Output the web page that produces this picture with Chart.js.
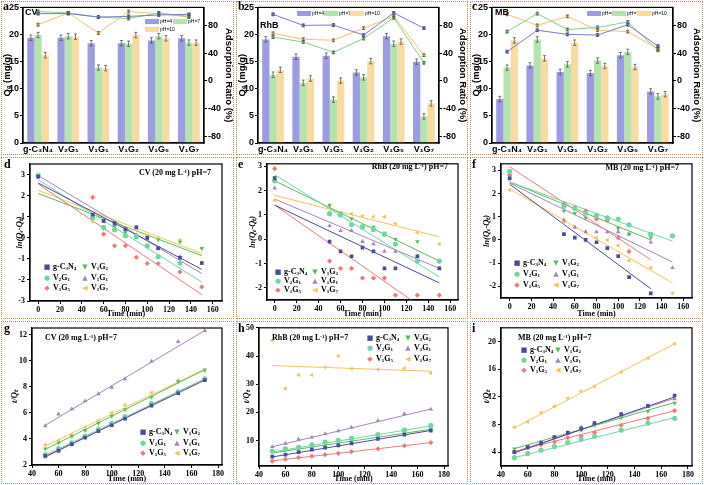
<!DOCTYPE html>
<html>
<head>
<meta charset="utf-8">
<title>Adsorption of CV, RhB and MB</title>
<script src="https://cdn.jsdelivr.net/npm/chart.js@4.4.1/dist/chart.umd.min.js"></script>
<style>
  body { margin: 0; background: #fff; }
  #wrap { position: relative; width: 704px; height: 485px; overflow: hidden; font-family: "Liberation Serif", serif; }
  .panel { position: absolute; box-sizing: border-box; border: 1.5px dotted #c38a55; }
  canvas { position: absolute; }
  .t { position: absolute; white-space: nowrap; line-height: 1; font-weight: bold; color: #000; }
  .letter { font-size: 12px; }
  .sans { font-family: "Liberation Sans", Arial, sans-serif; }
  .sw { position: absolute; }
  .mk { position: absolute; font-family: "DejaVu Sans", sans-serif; font-size: 7px; line-height: 1; transform: translate(-50%, -50%); }
  .lg { position: absolute; white-space: nowrap; font-weight: bold; font-size: 8px; line-height: 1; transform: translateY(-50%); }
  sub { font-size: 0.62em; vertical-align: -0.25em; line-height: 0; }
  sup { font-size: 0.62em; vertical-align: 0.5em; line-height: 0; }
</style>
</head>
<body>
<div id="wrap">
  <div class="panel" style="left:1px;top:1px;width:233px;height:154px"></div>
  <div class="panel" style="left:236px;top:1px;width:232px;height:154px"></div>
  <div class="panel" style="left:470px;top:1px;width:233px;height:154px"></div>
  <div class="panel" style="left:1px;top:157px;width:233px;height:162px"></div>
  <div class="panel" style="left:236px;top:157px;width:232px;height:162px"></div>
  <div class="panel" style="left:470px;top:157px;width:233px;height:162px"></div>
  <div class="panel" style="left:1px;top:321px;width:233px;height:163px"></div>
  <div class="panel" style="left:236px;top:321px;width:232px;height:163px"></div>
  <div class="panel" style="left:470px;top:321px;width:233px;height:163px"></div>

  <canvas id="ca" width="233" height="154" style="left:1px;top:1px"></canvas>
  <canvas id="cb" width="232" height="154" style="left:236px;top:1px"></canvas>
  <canvas id="cc" width="232" height="154" style="left:470px;top:1px"></canvas>
  <canvas id="cd" width="233" height="162" style="left:1px;top:157px"></canvas>
  <canvas id="ce" width="232" height="162" style="left:236px;top:157px"></canvas>
  <canvas id="cf" width="232" height="162" style="left:470px;top:157px"></canvas>
  <canvas id="cg" width="233" height="163" style="left:1px;top:321px"></canvas>
  <canvas id="ch" width="232" height="163" style="left:236px;top:321px"></canvas>
  <canvas id="ci" width="232" height="163" style="left:470px;top:321px"></canvas>

  <div class="t letter" style="left:3px;top:0px">a</div>
  <div class="t letter" style="left:238px;top:0px">b</div>
  <div class="t letter" style="left:472px;top:0px">c</div>
  <div class="t letter" style="left:4px;top:158px">d</div>
  <div class="t letter" style="left:238px;top:158px">e</div>
  <div class="t letter" style="left:472px;top:158px">f</div>
  <div class="t letter" style="left:4px;top:322px">g</div>
  <div class="t letter" style="left:238px;top:322px">h</div>
  <div class="t letter" style="left:472px;top:322px">i</div>

  <div class="t sans" style="left:25px;top:8px;font-size:9px">CV</div>
  <div class="t sans" style="left:260px;top:21px;font-size:9px">RhB</div>
  <div class="t sans" style="left:495px;top:8px;font-size:9px">MB</div>

  <div class="t" style="right:493px;top:169px;font-size:8px">CV (20 mg L<sup>-1</sup>) pH=7</div>
  <div class="t" style="right:256px;top:163px;font-size:8px">RhB (20 mg L<sup>-1</sup>) pH=7</div>
  <div class="t" style="right:25px;top:164px;font-size:8px">MB (20 mg L<sup>-1</sup>) pH=7</div>
  <div class="t" style="left:45px;top:334px;font-size:8px">CV (20 mg L<sup>-1</sup>) pH=7</div>
  <div class="t" style="left:272px;top:334px;font-size:8px">RhB (20 mg L<sup>-1</sup>) pH=7</div>
  <div class="t" style="left:518px;top:334px;font-size:8px">MB (20 mg L<sup>-1</sup>) pH=7</div>
</div>

<script>
// ---- top row: adsorption capacity (bars) and adsorption ratio (lines) ----
const categories = ['g-C₃N₄', 'V₂G₁', 'V₁G₁', 'V₁G₂', 'V₁G₅', 'V₁G₇'];
const phNames = ['pH=4', 'pH=7', 'pH=10'];
const qTicks = [0, 5, 10, 15, 20, 25];
const ratioTicks = [-80, -40, 0, 40, 80];

const cvQ4 = [19.4, 19.4, 18.4, 18.4, 18.9, 19.3];
const cvQ7 = [19.9, 19.7, 13.9, 18.3, 19.7, 18.5];
const cvQ10 = [16.2, 19.6, 13.8, 19.9, 19.3, 18.5];
const cvR4 = [97, 97, 92, 93, 95, 96];
const cvR7 = [100, 98, 92, 90, 98, 93];
const cvR10 = [81, 98, 69, 100, 97, 92];

const rhbQ4 = [19.1, 15.9, 16.1, 13.0, 19.7, 15.0];
const rhbQ7 = [12.6, 11.1, 8.0, 12.1, 18.3, 4.9];
const rhbQ10 = [13.5, 11.9, 11.5, 15.1, 18.7, 7.3];
const rhbR4 = [96, 80, 80.5, 66, 98, 76];
const rhbR7 = [63, 56, 41, 61, 91, 26];
const rhbR10 = [68.5, 60, 58.5, 76, 93, 37];

const mbQ4 = [8.1, 14.3, 13.1, 12.9, 16.2, 9.5];
const mbQ7 = [13.9, 19.1, 14.5, 15.2, 16.8, 8.6];
const mbQ10 = [18.9, 15.6, 18.5, 14.2, 14.0, 9.0];
const mbR4 = [42, 73, 67, 66, 81, 50];
const mbR7 = [71, 97, 74, 77, 85, 44];
const mbR10 = [96, 80, 93, 73, 71, 46];

const qErr = 0.5;
const rErr = 2;

// ---- kinetics: rows follow seriesNames ----
const seriesNames = ['g-C<sub>3</sub>N<sub>4</sub>', 'V<sub>2</sub>G<sub>1</sub>', 'V<sub>1</sub>G<sub>5</sub>',
                     'V<sub>1</sub>G<sub>2</sub>', 'V<sub>1</sub>G<sub>1</sub>', 'V<sub>1</sub>G<sub>7</sub>'];
const firstTimes = [0, 50, 60, 70, 80, 90, 100, 110, 130, 150];
const secondTimes = [50, 60, 70, 80, 90, 100, 110, 130, 150, 170];
const firstXTicks = [0, 20, 40, 60, 80, 100, 120, 140, 160];
const secondXTicks = [40, 60, 80, 100, 120, 140, 160, 180];
const cvFirstYTicks = [-3, -2, -1, 0, 1, 2, 3];
const firstYTicks = [-2, -1, 0, 1, 2, 3];
const cvSecondYTicks = [2, 4, 6, 8, 10, 12];
const rhbSecondYTicks = [10, 20, 30, 40, 50];
const mbSecondYTicks = [4, 8, 12, 16, 20];

// ln(Qe-Qt)
const cvFirst = [
  [2.9, 1.1, 0.8, 0.7, 0.4, 0.5, 0.0, -0.5, -0.95, -1.2],
  [2.95, 0.95, 0.5, 0.38, 0.1, 0.05, -0.38, -0.9, -1.2, null],
  [2.9, 1.92, 0.17, -0.38, -0.38, -0.93, -1.22, -1.22, -1.62, -2.33],
  [2.95, 1.05, 0.45, 0.53, 0.25, 0.1, -0.05, -0.1, -0.2, -0.5],
  [2.9, 1.0, 0.77, 0.6, 0.45, 0.13, -0.07, -0.5, -0.9, null],
  [3.0, 0.77, 0.77, 0.56, 0.4, 0.37, 0.09, -0.03, -0.1, -0.5]
];
const cvFirstFit = [[0, 2.6, 150, -1.5], [0, 2.75, 150, -2.1], [0, 2.55, 150, -2.7],
                    [0, 2.1, 150, -0.85], [0, 2.95, 150, -1.7], [0, 2.25, 150, -0.75]];

const rhbFirst = [
  [2.5, -0.1, -0.5, -0.7, -0.35, -0.5, -1.2, -1.2, -0.7, -1.2],
  [2.4, 1.05, 1.0, 0.6, 0.5, 0.4, 0.2, -0.2, -0.9, -0.9],
  [2.9, -0.9, -1.2, -1.2, -1.6, -1.6, -1.6, -2.3, -2.3, -2.3],
  [2.55, 1.4, 1.05, 0.85, 0.55, 0.5, 0.25, 0.0, -0.1, -0.9],
  [2.1, 0.55, 0.35, 0.35, -0.1, -0.2, -0.5, -0.5, -0.7, -1.2],
  [1.6, 1.35, 1.1, 1.05, 0.95, 0.92, 0.92, 0.65, 0.28, -0.2]
];
const rhbFirstFit = [[0, 1.4, 150, -1.8], [0, 2.65, 150, -1.55], [0, 1.4, 150, -3.3],
                     [0, 2.4, 150, -0.9], [0, 1.65, 150, -1.2], [0, 1.8, 150, 0.1]];

const mbFirst = [
  [2.65, 0.25, 0.1, 0.0, -0.1, -0.35, -0.7, -1.6, -2.3, null],
  [2.95, 1.45, 1.35, 1.15, 1.05, 0.95, 0.9, 0.65, 0.25, 0.18],
  [2.8, 1.55, 1.4, 1.25, 0.9, 0.85, 0.1, -0.5, null, null],
  [2.75, 1.25, 1.15, 0.95, 0.95, 0.85, 0.5, 0.25, 0.1, null],
  [2.7, 0.85, 0.55, 0.35, 0.35, 0.35, 0.35, 0.25, -0.1, -1.2],
  [2.15, 0.75, 0.55, 0.35, 0.1, 0.0, -0.25, -0.9, -1.2, -2.3]
];
const mbFirstFit = [[0, 2.4, 130, -2.1], [0, 2.5, 150, -0.05], [0, 3.15, 130, -0.85],
                    [0, 2.5, 130, 0.0], [0, 2.45, 150, -0.95], [0, 2.2, 150, -1.85]];

// t/Qt
const cvSecond = [
  [2.7, 3.1, 3.6, 4.1, 4.6, 5.05, 5.55, 6.55, 7.5, 8.5],
  [2.8, 3.25, 3.7, 4.2, 4.75, 5.2, 5.7, 6.7, 7.6, 8.6],
  [2.65, 3.1, 3.6, 4.15, 4.65, 5.1, 5.6, 6.6, 7.6, 8.6],
  [3.25, 3.7, 4.2, 4.65, 5.2, 5.75, 6.25, 7.2, 8.4, 9.3],
  [5.0, 5.9, 6.3, 6.9, 7.45, 7.95, 8.6, 9.95, 11.45, 12.3],
  [3.55, 3.9, 4.35, 4.9, 5.4, 6.0, 6.6, 7.55, 8.5, 9.2]
];
const cvSecondFit = [[50, 2.65, 170, 8.5], [50, 2.75, 170, 8.6], [50, 2.6, 170, 8.6],
                     [50, 3.2, 170, 9.3], [50, 5.05, 170, 12.3], [50, 3.45, 170, 9.35]];

const rhbSecond = [
  [4.3, 5.0, 5.9, 6.8, 7.5, 8.3, 9.0, 10.6, 12.1, 13.5],
  [6.3, 7.1, 7.6, 8.5, 9.5, 10.1, 10.8, 12.1, 13.7, 15.4],
  [2.7, 3.4, 4.0, 4.5, 5.0, 5.5, 6.1, 7.1, 8.2, 9.3],
  [6.0, 6.5, 7.3, 8.0, 8.9, 9.5, 10.2, 11.4, 12.8, 14.0],
  [7.8, 9.0, 10.5, 11.2, 12.4, 13.4, 14.7, 17.1, 19.5, 21.1],
  [45.5, 28.5, 33.3, 33.3, 36.0, 40.0, 35.5, 35.2, 35.7, 34.0]
];
const rhbSecondFit = [[50, 4.2, 170, 13.6], [50, 6.0, 170, 15.2], [50, 2.8, 170, 9.3],
                      [50, 5.6, 170, 14.0], [50, 7.8, 170, 21.2], [50, 36.6, 170, 34.6]];

const mbSecond = [
  [4.0, 4.7, 5.3, 6.2, 6.8, 7.4, 8.2, 9.5, 10.7, 12.2],
  [3.2, 3.8, 4.3, 4.8, 5.4, 5.9, 6.3, 7.2, 8.2, 8.9],
  [4.1, 4.7, 5.1, 5.5, 6.1, 6.3, 6.8, 7.9, 8.9, 10.0],
  [4.5, 4.9, 5.5, 6.2, 6.9, 7.2, 7.9, 9.0, 9.9, 11.1],
  [4.0, 4.7, 5.3, 6.1, 6.8, 7.6, 8.2, 9.4, 10.6, 11.7],
  [7.6, 8.4, 9.7, 10.6, 11.8, 12.8, 13.5, 15.6, 17.6, 19.7]
];
const mbSecondFit = [[50, 3.9, 170, 12.0], [50, 3.2, 170, 9.0], [50, 4.1, 170, 10.0],
                     [50, 4.5, 170, 11.2], [50, 4.0, 170, 11.8], [50, 7.5, 170, 19.7]];

// ---- styles ----
Chart.defaults.color = '#000';
const barColors = ['#9c9ce0', '#b4e3ae', '#f8dba2'];
const ratioColors = ['#7b7bc9', '#86cf86', '#f0c474'];
const markStyles = [
  { color: '#4b4b9e', shape: 'rect', rot: 0, glyph: '■' },
  { color: '#72d6a2', shape: 'circle', rot: 0, glyph: '●' },
  { color: '#f07a7a', shape: 'rectRot', rot: 0, glyph: '◆' },
  { color: '#5cbb5c', shape: 'triangle', rot: 180, glyph: '▼' },
  { color: '#a586b8', shape: 'triangle', rot: 0, glyph: '▲' },
  { color: '#f4c45c', shape: 'triangle', rot: -90, glyph: '◀' }
];

const sansTick = { family: '"Liberation Sans", Arial, sans-serif', size: 9, weight: 'bold' };
const sansTitle = { family: '"Liberation Sans", Arial, sans-serif', size: 9.5, weight: 'bold' };
const serifTick = { family: '"Liberation Serif", serif', size: 8, weight: 'bold' };
const serifItalic = { family: '"Liberation Serif", serif', size: 8.5, weight: 'bold', style: 'italic' };
const gridStyle = { display: true, drawOnChartArea: false, drawTicks: true, tickLength: 3, color: '#000', lineWidth: 1 };
const borderStyle = { display: true, color: '#000', width: 1.2 };

function fixTicks(list) {
  return s => { s.ticks = list.map(v => ({ value: v })); };
}

const frame = {
  id: 'frame',
  afterDraw(chart) {
    const a = chart.chartArea;
    const c = chart.ctx;
    c.save();
    c.strokeStyle = '#000';
    c.lineWidth = 1.2;
    c.strokeRect(a.left, a.top, a.right - a.left, a.bottom - a.top);
    c.restore();
  }
};

const errorBars = {
  id: 'errorBars',
  afterDatasetsDraw(chart) {
    const c = chart.ctx;
    chart.data.datasets.forEach((ds, i) => {
      if (!ds.err) return;
      const meta = chart.getDatasetMeta(i);
      const sc = chart.scales[meta.yAxisID];
      c.save();
      c.strokeStyle = '#555';
      c.lineWidth = 0.8;
      meta.data.forEach((el, j) => {
        const y1 = sc.getPixelForValue(ds.data[j] + ds.err);
        const y2 = sc.getPixelForValue(ds.data[j] - ds.err);
        c.beginPath();
        c.moveTo(el.x, y1); c.lineTo(el.x, y2);
        c.moveTo(el.x - 1.5, y1); c.lineTo(el.x + 1.5, y1);
        c.moveTo(el.x - 1.5, y2); c.lineTo(el.x + 1.5, y2);
        c.stroke();
      });
      c.restore();
    });
  }
};

function topChart(id, geo, q, r) {
  const datasets = [];
  q.forEach((vals, k) => {
    datasets.push({ type: 'bar', data: vals, backgroundColor: barColors[k], err: qErr, order: 2,
                    categoryPercentage: 0.72, barPercentage: 1.0 });
  });
  r.forEach((vals, k) => {
    datasets.push({ type: 'line', data: vals, yAxisID: 'y2', borderColor: ratioColors[k],
                    backgroundColor: ratioColors[k], pointStyle: 'rect', pointRadius: 1.8,
                    borderWidth: 1, err: rErr, order: 1 });
  });
  new Chart(document.getElementById(id), {
    type: 'bar',
    data: { labels: categories, datasets },
    plugins: [errorBars, frame],
    options: {
      responsive: false, animation: false, devicePixelRatio: 1,
      layout: { padding: { top: 5, left: 1, right: 0, bottom: 0 } },
      plugins: { legend: { display: false }, tooltip: { enabled: false } },
      scales: {
        x: { ticks: { font: sansTick, autoSkip: false, maxRotation: 0, padding: 1 },
             grid: { display: false, drawTicks: false }, border: borderStyle,
             afterFit: s => { s.height = geo.xh; } },
        y: { position: 'left', min: 0, max: 25, afterBuildTicks: fixTicks(qTicks),
             ticks: { font: sansTick, padding: 1 }, grid: gridStyle, border: borderStyle,
             title: { display: true, text: 'Qₑ (mg/g)', font: sansTitle, padding: 0 },
             afterFit: s => { s.width = geo.yw; } },
        y2: { position: 'right', min: -90, max: 106, afterBuildTicks: fixTicks(ratioTicks),
              ticks: { font: sansTick, padding: 1 }, grid: gridStyle, border: borderStyle,
              title: { display: true, text: 'Adsorption Ratio (%)', font: sansTitle, padding: 0 },
              afterFit: s => { s.width = geo.y2w; } }
      }
    }
  });
}

function kinChart(id, geo, times, rows, fits, xr, xt, yr, yt, yTitle) {
  const datasets = [];
  fits.forEach((f, k) => {
    datasets.push({ data: [{ x: f[0], y: f[1] }, { x: f[2], y: f[3] }], showLine: true,
                    pointRadius: 0, borderColor: markStyles[k].color, borderWidth: 1, order: 2 });
  });
  rows.forEach((row, k) => {
    const st = markStyles[k];
    const pts = [];
    times.forEach((t, j) => { if (row[j] !== null) pts.push({ x: t, y: row[j] }); });
    datasets.push({ data: pts, showLine: false, pointStyle: st.shape, pointRotation: st.rot,
                    pointRadius: 2.6, backgroundColor: st.color, borderColor: st.color,
                    borderWidth: 0, order: 1 });
  });
  new Chart(document.getElementById(id), {
    type: 'scatter',
    data: { datasets },
    plugins: [frame],
    options: {
      responsive: false, animation: false, devicePixelRatio: 1,
      layout: { padding: { top: geo.top, left: geo.left, right: geo.right, bottom: 0 } },
      plugins: { legend: { display: false }, tooltip: { enabled: false } },
      scales: {
        x: { type: 'linear', min: xr[0], max: xr[1], afterBuildTicks: fixTicks(xt),
             ticks: { font: serifTick, padding: 1, autoSkip: false, maxRotation: 0 },
             grid: gridStyle, border: borderStyle,
             title: { display: true, text: 'Time (min)', font: serifTick, padding: 0 },
             afterFit: s => { s.height = geo.xh; } },
        y: { type: 'linear', min: yr[0], max: yr[1], afterBuildTicks: fixTicks(yt),
             ticks: { font: serifTick, padding: 2 }, grid: gridStyle, border: borderStyle,
             title: { display: true, text: yTitle, font: serifItalic, padding: 0 },
             afterFit: s => { s.width = geo.yw; } }
      }
    }
  });
}

function addEl(cls, html, style) {
  const d = document.createElement('div');
  d.className = cls;
  d.innerHTML = html;
  d.style.cssText = style;
  document.getElementById('wrap').appendChild(d);
}

// legend for kinetics panels: two columns, three rows
function kinLegend(cols, rows) {
  seriesNames.forEach((name, k) => {
    const x = cols[Math.floor(k / 3)];
    const y = rows[k % 3];
    addEl('mk', markStyles[k].glyph, `left:${x}px;top:${y}px;color:${markStyles[k].color}`);
    addEl('lg', name, `left:${x + 6}px;top:${y}px`);
  });
}

// legend for top row: [x, y] of each colour swatch
function phLegend(spots) {
  phNames.forEach((name, k) => {
    const [x, y] = spots[k];
    addEl('sw', '', `left:${x}px;top:${y}px;width:14px;height:5px;background:${barColors[k]}`);
    addEl('t sans', name, `left:${x + 15}px;top:${y}px;font-size:5px;font-weight:normal`);
  });
}

topChart('ca', { yw: 21, y2w: 30, xh: 12 }, [cvQ4, cvQ7, cvQ10], [cvR4, cvR7, cvR10]);
topChart('cb', { yw: 21, y2w: 29, xh: 12 }, [rhbQ4, rhbQ7, rhbQ10], [rhbR4, rhbR7, rhbR10]);
topChart('cc', { yw: 21, y2w: 29, xh: 12 }, [mbQ4, mbQ7, mbQ10], [mbR4, mbR7, mbR10]);

kinChart('cd', { left: 14, yw: 15, right: 12, top: 7, xh: 18 }, firstTimes, cvFirst, cvFirstFit,
         [-7.5, 168.5], firstXTicks, [-3, 3.5], cvFirstYTicks, 'ln(Qₑ-Qₜ)');
kinChart('ce', { left: 12, yw: 19, right: 10, top: 3, xh: 19 }, firstTimes, rhbFirst, rhbFirstFit,
         [-7, 167], firstXTicks, [-2.5, 3.1], firstYTicks, 'ln(Qₑ-Qₜ)');
kinChart('cf', { left: 12, yw: 19, right: 10, top: 3, xh: 21 }, firstTimes, mbFirst, mbFirstFit,
         [-8, 168], firstXTicks, [-2.5, 3.28], firstYTicks, 'ln(Qₑ-Qₜ)');
kinChart('cg', { left: 9, yw: 22, right: 12, top: 7, xh: 19 }, secondTimes, cvSecond, cvSecondFit,
         [40, 183], secondXTicks, [2, 12.5], cvSecondYTicks, 't/Qₜ');
kinChart('ch', { left: 6, yw: 17, right: 20, top: 6, xh: 18 }, secondTimes, rhbSecond, rhbSecondFit,
         [40, 183], secondXTicks, [1, 50], rhbSecondYTicks, 't/Qₜ');
kinChart('ci', { left: 12, yw: 19, right: 10, top: 4, xh: 18 }, secondTimes, mbSecond, mbSecondFit,
         [40, 183], secondXTicks, [2, 22], mbSecondYTicks, 't/Qₜ');

phLegend([[145, 19], [173, 19], [145, 27]]);
phLegend([[297, 11], [324, 11], [350, 11]]);
phLegend([[587, 11], [612, 11], [637, 11]]);

kinLegend([47, 85], [267, 278, 288]);
kinLegend([278, 315], [272, 281, 290]);
kinLegend([517, 556], [263, 274, 285]);
kinLegend([143, 177], [432, 443, 453]);
kinLegend([370, 408], [338, 348, 359]);
kinLegend([524, 558], [350, 360, 370]);
</script>
</body>
</html>
